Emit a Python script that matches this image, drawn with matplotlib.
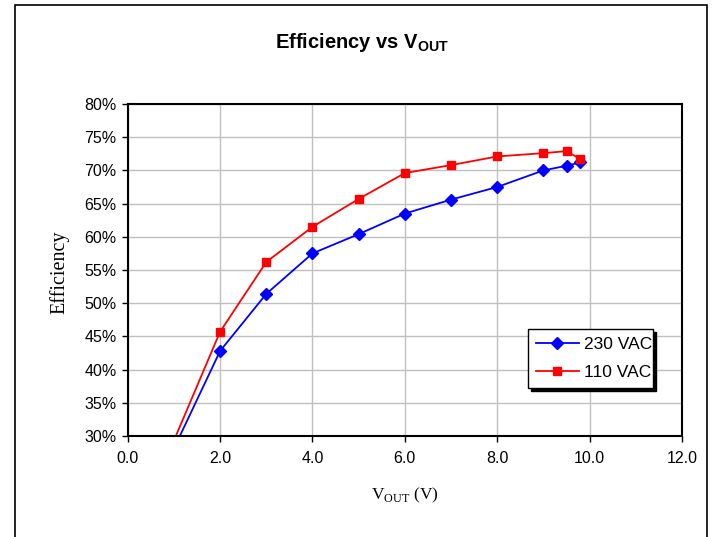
import matplotlib
matplotlib.use('Agg')
import matplotlib.pyplot as plt
from matplotlib.patches import Rectangle
from matplotlib.ticker import FuncFormatter, MultipleLocator

plt.rcParams['font.family'] = ['Liberation Sans', 'DejaVu Sans']
plt.rcParams['mathtext.fontset'] = 'custom'
plt.rcParams['mathtext.rm'] = 'Liberation Serif'
plt.rcParams['mathtext.bf'] = 'Liberation Sans:bold'

# data (efficiency in %)
vout = [1.0, 2.0, 3.0, 4.0, 5.0, 6.0, 7.0, 8.0, 9.0, 9.5, 9.8]
eff_230 = [28.1, 42.8, 51.4, 57.5, 60.4, 63.5, 65.6, 67.5, 70.0, 70.7, 71.2]
eff_110 = [29.3, 45.7, 56.2, 61.5, 65.7, 69.6, 70.8, 72.1, 72.6, 72.9, 71.7]
labels = ['230 VAC', '110 VAC']

W, H = 714, 537
fig = plt.figure(figsize=(W / 100, H / 100), dpi=100)
ax = fig.add_axes([127.7 / W, 1 - 436 / H, (682 - 127.7) / W, (436 - 104) / H])

# outer chart border
fig.patches.append(Rectangle((15 / W, -0.05), (707 - 15) / W, 1 - 5 / H + 0.05,
                             transform=fig.transFigure, fill=False,
                             edgecolor='black', linewidth=1.2))

ax.plot(vout, eff_230, color='#0000ff', marker='D', markersize=6.5, lw=1.3,
        label=labels[0])
ax.plot(vout, eff_110, color='#ff0000', marker='s', markersize=6, lw=1.3,
        label=labels[1])

ax.set_xlim(0, 12)
ax.set_ylim(30, 80)
ax.xaxis.set_major_locator(MultipleLocator(2))
ax.yaxis.set_major_locator(MultipleLocator(5))
ax.xaxis.set_major_formatter(FuncFormatter(lambda v, p: '{:.1f}'.format(v)))
ax.yaxis.set_major_formatter(FuncFormatter(lambda v, p: '{:.0f}%'.format(v)))
ax.grid(True, color='#c0c0c0', lw=1)
ax.set_axisbelow(True)
ax.tick_params(direction='out', length=4, width=1, labelsize=11.5, pad=4)
ax.tick_params(axis='x', pad=7)
for s in ax.spines.values():
    s.set_linewidth(1.5)
    s.set_color('black')

fig.text(362 / W, 1 - 43 / H, r'Efficiency vs V$_\mathbf{OUT}$', ha='center',
         va='center', fontsize=14.5, fontweight='bold')
fig.text(59 / W, 1 - 272 / H, 'Efficiency', family='Liberation Serif',
         fontsize=14.5, rotation=90, ha='center', va='center')
ax.set_xlabel(r'V$_\mathrm{OUT}$ (V)', family='Liberation Serif', fontsize=12.5,
              labelpad=14)

leg = ax.legend(loc='lower left', bbox_to_anchor=(0.722, 0.144, 0.226, 0.177),
                mode='expand', fancybox=False, edgecolor='black', framealpha=1,
                shadow={'color': 'black', 'alpha': 1}, fontsize=12.5,
                handlelength=2.5, borderaxespad=0, handletextpad=0.3,
                borderpad=0.45, labelspacing=0.75)
leg.get_frame().set_linewidth(1)

fig.savefig('out.png', dpi=100)
